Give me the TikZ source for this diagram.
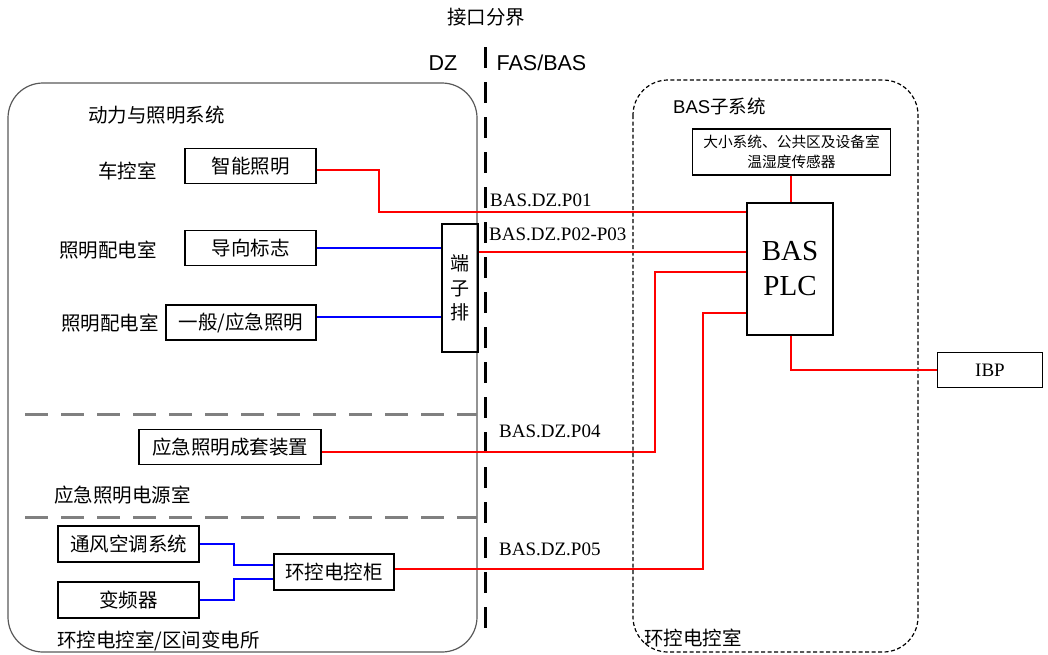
\documentclass[tikz,border=0pt]{standalone}
\usepackage{fontspec}
\setmainfont{Liberation Serif}
\setsansfont{Liberation Sans}
\newfontfamily\cjk{Noto Sans CJK SC}
\begin{document}
\begin{tikzpicture}[x=1pt,y=-1pt,
  cjkfont/.style={font=\cjk\fontsize{19.5}{23}\selectfont},
  box/.style={draw, line width=1.8pt, inner sep=0pt, cjkfont},
  redw/.style={draw=red, line width=2pt},
  bluew/.style={draw=blue, line width=2pt},
  lbl/.style={inner sep=0pt, cjkfont},
  pcode/.style={inner sep=0pt, anchor=base west, font=\fontsize{19}{22}\selectfont},
  sidelbl/.style={inner sep=0pt, font=\sffamily\fontsize{21.5}{24}\selectfont},
  sepline/.style={draw=black!50, line width=3pt, dash pattern=on 23pt off 13pt},
  boundary/.style={draw=black, line width=3pt, dash pattern=on 21pt off 14pt}
]
\useasboundingbox (0,0) rectangle (1048,654);

% containers
\draw[draw=black!65, line width=1.2pt, rounded corners=35pt] (8,83) rectangle (477,652);
\draw[draw=black, line width=1.2pt, dash pattern=on 4pt off 2.5pt, rounded corners=35pt] (633,80) rectangle (918,652);

% boundary
\node[lbl] (title) at (486,17) {接口分界};
\node[sidelbl] (dz) at (443,63) {DZ};
\node[sidelbl] (fas) at (541.5,63) {FAS/BAS};
\coordinate (btop) at (485,47);
\coordinate (bbot) at (485,640);
\draw[boundary] (btop) -- (bbot);

% separators
\coordinate (s1a) at (25,414); \coordinate (s1b) at (477,414);
\coordinate (s2a) at (25,517); \coordinate (s2b) at (477,517);
\draw[sepline] (s1a) -- (s1b);
\draw[sepline] (s2a) -- (s2b);

% left labels
\node[lbl, anchor=west] (dlzm) at (88,115) {动力与照明系统};
\node[lbl, anchor=west] (ckc) at (98,171) {车控室};
\node[lbl, anchor=west] (zmpd1) at (59,250.5) {照明配电室};
\node[lbl, anchor=west] (zmpd2) at (61,323) {照明配电室};
\node[lbl, anchor=west] (yjdy) at (54,495) {应急照明电源室};
\node[lbl, anchor=west] (hkdk) at (57,641) {环控电控室/区间变电所};

% left boxes
\node[box, minimum width=131pt, minimum height=35pt] (zn) at (250.5,166) {智能照明};
\node[box, minimum width=131pt, minimum height=35pt] (dx) at (250.5,248) {导向标志};
\node[box, minimum width=150pt, minimum height=35pt] (yb) at (241,322.5) {一般/应急照明};
\node[box, minimum width=36pt, minimum height=128pt, align=center, font=\cjk\fontsize{19}{24.5}\selectfont] (dzp) at (460,288) {端\\子\\排};
\node[box, minimum width=182pt, minimum height=35pt] (yj) at (230,447) {应急照明成套装置};
\node[box, minimum width=141pt, minimum height=36pt] (tf) at (128.5,544) {通风空调系统};
\node[box, minimum width=141pt, minimum height=36pt] (bp) at (128.5,600) {变频器};
\node[box, minimum width=120pt, minimum height=36pt] (hk) at (334,572) {环控电控柜};

% right side
\node[inner sep=0pt, anchor=west, font=\fontsize{18.5}{22}\selectfont] (bassub) at (673,106) {\sffamily BAS\cjk 子系统};
\node[box, minimum width=198pt, minimum height=46pt, align=center, font=\cjk\fontsize{14.7}{19.6}\selectfont] (sensor) at (791.5,152) {大小系统、公共区及设备室\\温湿度传感器};
\node[box, minimum width=86pt, minimum height=132pt, align=center, font=\fontsize{29}{35}\selectfont] (plc) at (790,269) {BAS\\PLC};
\node[box, minimum width=105pt, minimum height=35pt, font=\fontsize{19}{22}\selectfont] (ibp) at (990,370) {IBP};
\node[lbl, anchor=west] (hkdkr) at (644,638) {环控电控室};

% wires
\draw[redw] (zn.east |- 0,170) -- (379,170) |- (plc.west |- 0,212);
\draw[bluew] (dx.east) -- (dzp.west |- dx.east);
\draw[bluew] (yb.east |- 0,317) -- (dzp.west |- 0,317);
\draw[redw] (dzp.east |- 0,252) -- (plc.west |- 0,252);
\draw[redw] (yj.east |- 0,452) -- (655,452) |- (plc.west |- 0,272);
\draw[redw] (hk.east |- 0,569) -- (703,569) |- (plc.west |- 0,313);
\draw[redw] (sensor.south -| 791,0) -- (plc.north -| 791,0);
\draw[redw] (plc.south -| 791,0) |- (ibp.west |- 0,370);
\draw[bluew] (tf.east) -- (234,544) |- (hk.west |- 0,565);
\draw[bluew] (bp.east) -- (234,600) |- (hk.west |- 0,579);

% codes
\node[pcode] (p01) at (490,206.5) {BAS.DZ.P01};
\node[pcode] (p02) at (489,240) {BAS.DZ.P02-P03};
\node[pcode] (p04) at (499,437) {BAS.DZ.P04};
\node[pcode] (p05) at (499,555) {BAS.DZ.P05};
\end{tikzpicture}
\end{document}
